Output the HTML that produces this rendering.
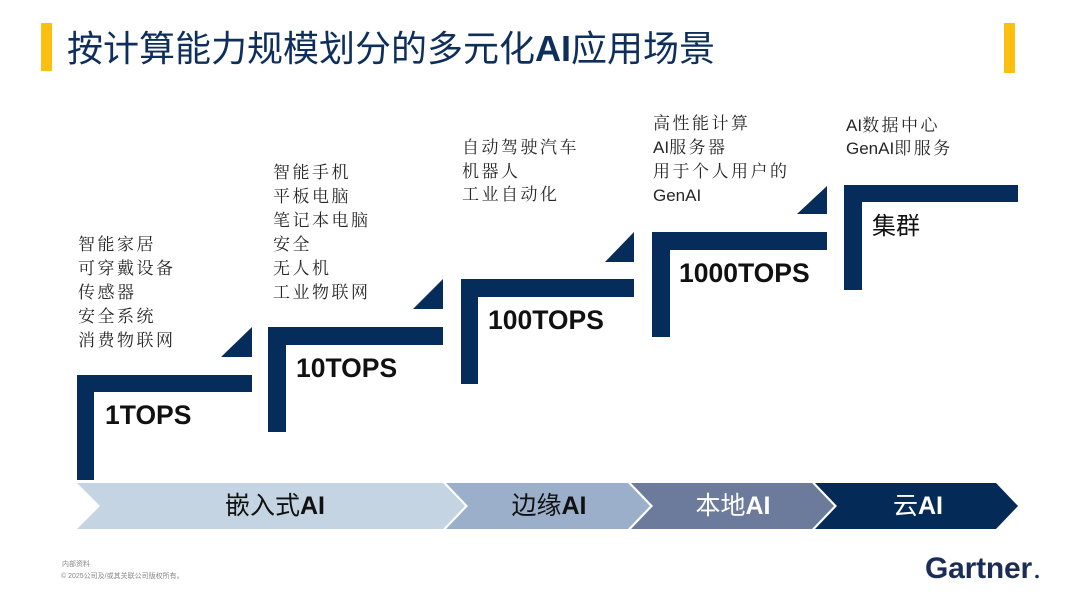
<!DOCTYPE html>
<html><head><meta charset="utf-8"><style>
html,body{margin:0;padding:0;background:#fff;}
svg{display:block;}
.cn{font-family:"Noto Serif CJK SC","Liberation Serif",serif;font-size:17px;fill:#262626;letter-spacing:2.5px;}
.tops{font-family:"Liberation Sans",sans-serif;font-weight:bold;font-size:26.5px;fill:#111;}
.chev{font-family:"Liberation Sans","Noto Sans CJK SC",sans-serif;font-size:25px;}
</style></head><body>
<svg width="1080" height="608" viewBox="0 0 1080 608" xmlns="http://www.w3.org/2000/svg">
<rect width="1080" height="608" fill="#fff"/>
<!-- title -->
<rect x="41" y="23" width="11" height="48" fill="#fdc010"/>
<rect x="1004" y="23" width="11" height="50" fill="#fdc010"/>
<text x="67" y="61" font-family="'Liberation Sans','Noto Sans CJK SC',sans-serif" font-size="36" fill="#0e2f5c">按计算能力规模划分的多元化<tspan font-weight="bold">AI</tspan>应用场景</text>

<!-- stairs -->
<g fill="#052c5a">
<path d="M77 375H252V392H94V480H77Z"/>
<path d="M268 327H443V345H286V432H268Z"/>
<path d="M461 279H634V297H478V384H461Z"/>
<path d="M652 232H827V250H670V337H652Z"/>
<path d="M844 185H1018V202H862V290H844Z"/>
<path d="M221 357H252V327Z"/>
<path d="M413 309H443V279Z"/>
<path d="M605 262H634V232Z"/>
<path d="M797 214H827V186Z"/>
</g>

<!-- TOPS labels -->
<text class="tops" x="105" y="424">1TOPS</text>
<text class="tops" x="296" y="377">10TOPS</text>
<text class="tops" x="488" y="329">100TOPS</text>
<text class="tops" x="679" y="282">1000TOPS</text>
<text x="872" y="234" font-family="'Liberation Sans','Noto Sans CJK SC',sans-serif" font-size="24" fill="#111">集群</text>

<!-- lists -->
<g class="cn">
<text x="78" y="250">智能家居</text>
<text x="78" y="274">可穿戴设备</text>
<text x="78" y="298">传感器</text>
<text x="78" y="322">安全系统</text>
<text x="78" y="346">消费物联网</text>

<text x="273" y="178">智能手机</text>
<text x="273" y="202">平板电脑</text>
<text x="273" y="226">笔记本电脑</text>
<text x="273" y="250">安全</text>
<text x="273" y="274">无人机</text>
<text x="273" y="298">工业物联网</text>

<text x="462" y="153">自动驾驶汽车</text>
<text x="462" y="177">机器人</text>
<text x="462" y="200">工业自动化</text>

<text x="653" y="129">高性能计算</text>
<text x="653" y="153"><tspan font-family="'Liberation Sans',sans-serif" letter-spacing="0">AI</tspan>服务器</text>
<text x="653" y="177">用于个人用户的</text>
<text x="653" y="201" font-family="'Liberation Sans',sans-serif" letter-spacing="0">GenAI</text>

<text x="846" y="131"><tspan font-family="'Liberation Sans',sans-serif" letter-spacing="0">AI</tspan>数据中心</text>
<text x="846" y="154"><tspan font-family="'Liberation Sans',sans-serif" letter-spacing="0">GenAI</tspan>即服务</text>
</g>

<!-- chevrons -->
<path d="M77 483H443L465 506L443 529H77L100 506Z" fill="#c4d4e2"/>
<path d="M446 483H628L650 506L628 529H446L468 506Z" fill="#9cafca"/>
<path d="M631 483H812L834 506L812 529H631L653 506Z" fill="#6c7b9c"/>
<path d="M815 483H996L1018 506L996 529H815L837 506Z" fill="#042a58"/>
<text class="chev" x="275" y="514" text-anchor="middle" fill="#111">嵌入式<tspan font-weight="bold">AI</tspan></text>
<text class="chev" x="549" y="514" text-anchor="middle" fill="#111">边缘<tspan font-weight="bold">AI</tspan></text>
<text class="chev" x="733" y="514" text-anchor="middle" fill="#fff">本地<tspan font-weight="bold">AI</tspan></text>
<text class="chev" x="918" y="514" text-anchor="middle" fill="#fff">云<tspan font-weight="bold">AI</tspan></text>

<!-- footer -->
<text x="62" y="566" font-family="'Liberation Sans','Noto Sans CJK SC',sans-serif" font-size="7" fill="#888">内部资料</text>
<text x="61" y="578" font-family="'Liberation Sans','Noto Sans CJK SC',sans-serif" font-size="7" fill="#888">© 2025公司及/或其关联公司版权所有。</text>
<text x="925" y="578" font-family="'Liberation Sans',sans-serif" font-weight="bold" font-size="30" fill="#1b2d57" letter-spacing="-0.2">Gartner</text>
<circle cx="1037" cy="576.5" r="1.8" fill="#1b2d57"/>
</svg>
</body></html>
